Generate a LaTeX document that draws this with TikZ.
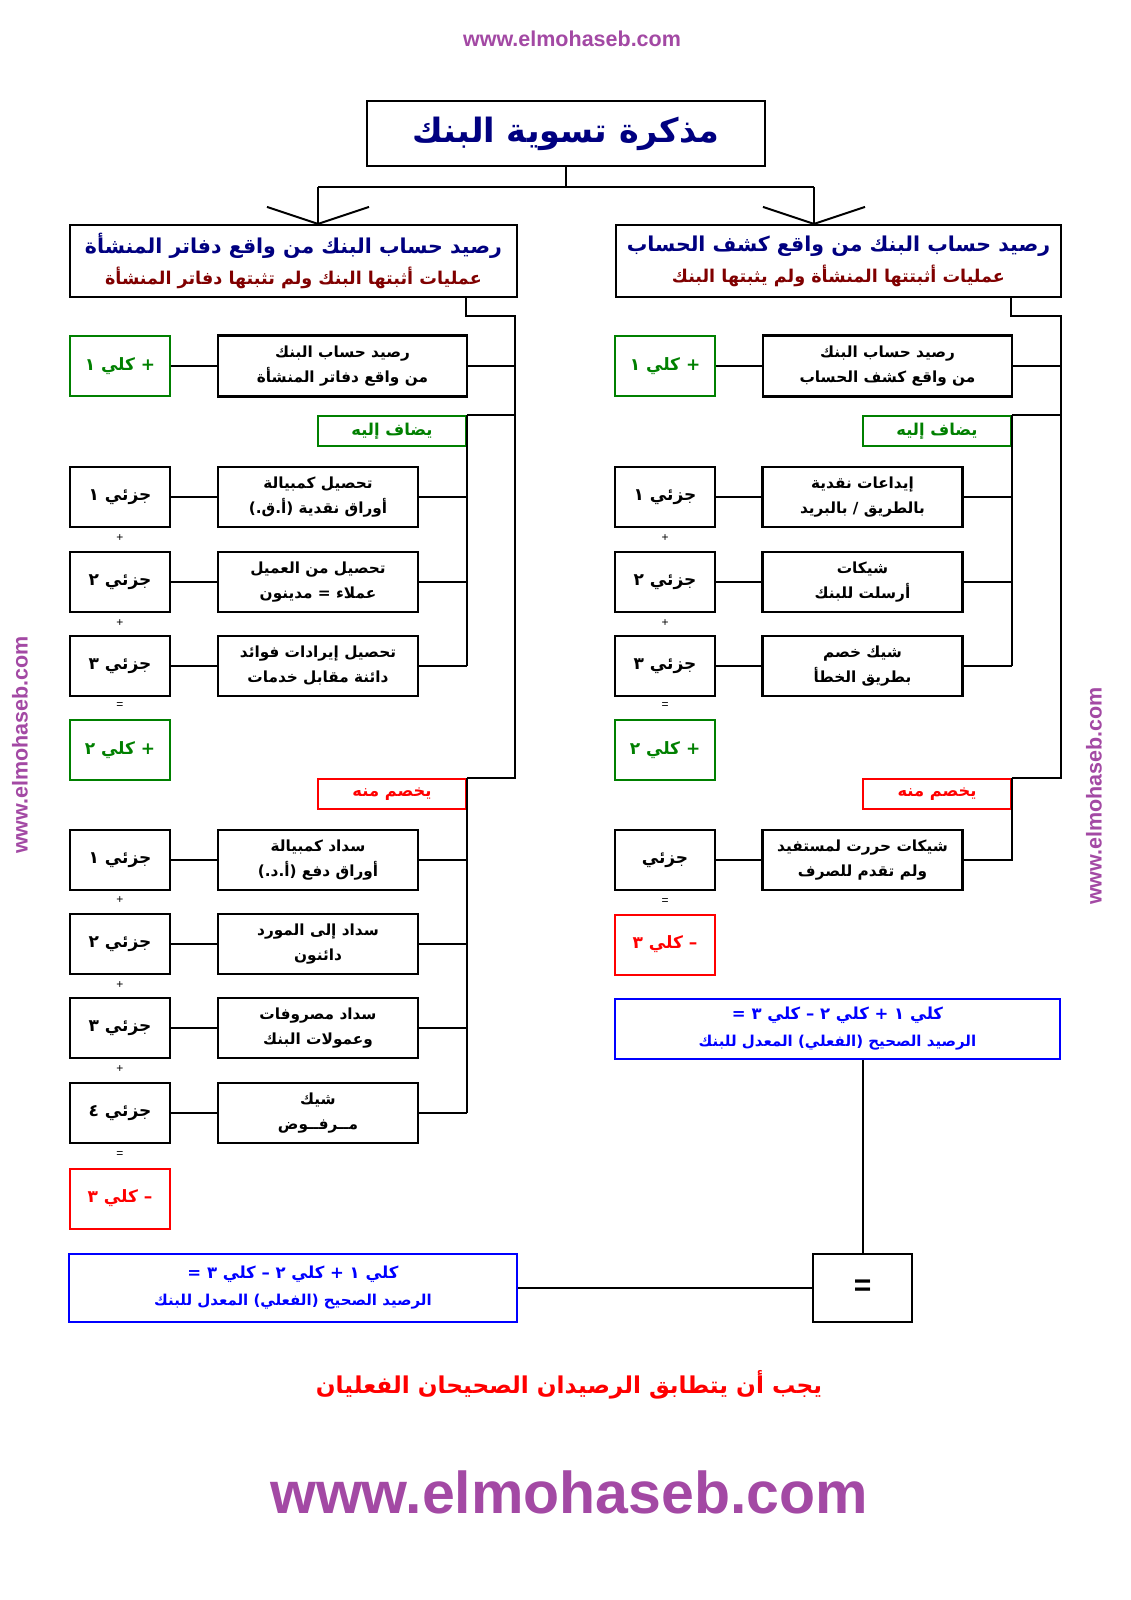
\documentclass[tikz,border=0pt]{standalone}
\usepackage{fontspec}
\setmainfont{Liberation Sans}
\newfontfamily\arabicfont[Script=Arabic]{DejaVu Sans}
\TeXXeTstate=1
\usetikzlibrary{calc}
\definecolor{navytxt}{HTML}{000080}
\definecolor{maroontxt}{HTML}{800000}
\definecolor{grn}{HTML}{008000}
\definecolor{rd}{HTML}{FF0000}
\definecolor{blu}{HTML}{0000FF}
\definecolor{urlpurple}{HTML}{A349A4}
\newcommand{\rl}[1]{\beginR#1\endR}

\begin{document}
\begin{tikzpicture}[x=1pt,y=-1pt,
    box/.style={draw,line width=2.2pt,inner sep=0pt,align=center,
      font=\arabicfont\bfseries\fontsize{15.3}{25}\selectfont},
    part/.style={box,minimum width=100pt,minimum height=60pt,
      font=\arabicfont\bfseries\fontsize{17}{25}\selectfont},
    item/.style={box,minimum width=200pt,minimum height=60pt},
    gpart/.style={part,draw=grn,text=grn,line width=2pt},
    rpart/.style={part,draw=rd,text=rd,line width=2pt},
    tag/.style={box,line width=2pt,minimum width=148pt,minimum height=30pt,
      font=\arabicfont\bfseries\fontsize{16.3}{20}\selectfont},
    sum/.style={box,draw=blu,text=blu,line width=2pt,minimum width=446pt,
      font=\arabicfont\bfseries\fontsize{15}{27}\selectfont},
    link/.style={line width=2pt},
    sign/.style={inner sep=1pt,font=\fontsize{12}{12}\selectfont},
    url/.style={text=urlpurple,font=\bfseries\fontsize{21.5}{22}\selectfont}]
  \useasboundingbox[fill=white] (0,0) rectangle (1131,1600);

  % title and the two headers
  \node[url] (urltop) at (572,39) {www.elmohaseb.com};
  \node[box,minimum width=398pt,minimum height=65pt,text=navytxt,
    font=\arabicfont\bfseries\fontsize{33.5}{36}\selectfont] (title) at (566,133.5) {\rl{مذكرة تسوية البنك}};
  \node[box,minimum width=447pt,minimum height=72pt,
    font=\arabicfont\bfseries\fontsize{20.5}{31}\selectfont] (headL) at (293.5,261)
    {\textcolor{navytxt}{\rl{رصيد حساب البنك من واقع دفاتر المنشأة}}\\
     \textcolor{maroontxt}{\fontsize{17.6}{31}\selectfont\rl{عمليات أثبتها البنك ولم تثبتها دفاتر المنشأة}}};
  \node[box,minimum width=445pt,minimum height=72pt,
    font=\arabicfont\bfseries\fontsize{20.5}{31}\selectfont] (headR) at (838.5,261)
    {\textcolor{navytxt}{\rl{رصيد حساب البنك من واقع كشف الحساب}}\\
     \textcolor{maroontxt}{\fontsize{17.6}{31}\selectfont\rl{عمليات أثبتتها المنشأة ولم يثبتها البنك}}};

  \coordinate (forkL) at (318,187);
  \coordinate (forkR) at (814,187);
  \draw[link] (title.south) -- (title.south |- forkL);
  \draw[link] (forkL) -- (forkR);
  \draw[link] (forkL) -- (forkL |- headL.north);
  \draw[link] (forkR) -- (forkR |- headR.north);
  \draw[link] ($(forkL |- headL.north)+(-51,-17)$) -- (forkL |- headL.north) -- ++(51,-17);
  \draw[link] ($(forkR |- headR.north)+(-51,-17)$) -- (forkR |- headR.north) -- ++(51,-17);

  % left column: book balance
  \node[gpart] (k1L) at (120,366) {\rl{+ كلي ١}};
  \node[box,minimum width=249pt,minimum height=61pt] (balL) at (342.5,366)
    {\rl{رصيد حساب البنك}\\\rl{من واقع دفاتر المنشأة}};
  \node[tag,draw=grn,text=grn] (addL) at (392,431) {\rl{يضاف إليه}};
  \node[part] (p1L) at (120,497) {\rl{جزئي ١}};
  \node[item] (b1L) at (318,497) {\rl{تحصيل كمبيالة}\\\rl{أوراق نقدية (أ.ق.)}};
  \node[part] (p2L) at (120,582) {\rl{جزئي ٢}};
  \node[item] (b2L) at (318,582) {\rl{تحصيل من العميل}\\\rl{عملاء = مدينون}};
  \node[part] (p3L) at (120,666) {\rl{جزئي ٣}};
  \node[item] (b3L) at (318,666) {\rl{تحصيل إيرادات فوائد}\\\rl{دائنة مقابل خدمات}};
  \node[gpart] (k2L) at (120,750) {\rl{+ كلي ٢}};
  \node[tag,draw=rd,text=rd] (subL) at (392,794) {\rl{يخصم منه}};
  \node[part] (q1L) at (120,860) {\rl{جزئي ١}};
  \node[item] (c1L) at (318,860) {\rl{سداد كمبيالة}\\\rl{أوراق دفع (أ.د.)}};
  \node[part] (q2L) at (120,944) {\rl{جزئي ٢}};
  \node[item] (c2L) at (318,944) {\rl{سداد إلى المورد}\\\rl{دائنون}};
  \node[part] (q3L) at (120,1028) {\rl{جزئي ٣}};
  \node[item] (c3L) at (318,1028) {\rl{سداد مصروفات}\\\rl{وعمولات البنك}};
  \node[part] (q4L) at (120,1113) {\rl{جزئي ٤}};
  \node[item] (c4L) at (318,1113) {\rl{شيك}\\\rl{مــرفــوض}};
  \node[rpart] (k3L) at (120,1198.5) {\rl{– كلي ٣}};
  \node[sum,minimum width=448pt,minimum height=68pt] (sumL) at (293,1288)
    {\fontsize{16.5}{27}\selectfont\rl{كلي ١ + كلي ٢ – كلي ٣ =}\\\rl{الرصيد الصحيح (الفعلي) المعدل للبنك}};

  \node[sign] (s1L) at (120,538) {+};
  \node[sign] (s2L) at (120,623) {+};
  \node[sign] (s3L) at (120,706) {=};
  \node[sign] (s4L) at (120,900) {+};
  \node[sign] (s5L) at (120,985) {+};
  \node[sign] (s6L) at (120,1069) {+};
  \node[sign] (s7L) at (120,1155) {=};

  % right column: bank statement balance
  \node[gpart] (k1R) at (665,366) {\rl{+ كلي ١}};
  \node[box,minimum width=249pt,minimum height=61pt] (balR) at (887.5,366)
    {\rl{رصيد حساب البنك}\\\rl{من واقع كشف الحساب}};
  \node[tag,draw=grn,text=grn] (addR) at (937,431) {\rl{يضاف إليه}};
  \node[part] (p1R) at (665,497) {\rl{جزئي ١}};
  \node[item] (b1R) at (862.5,497) {\rl{إيداعات نقدية}\\\rl{بالطريق / بالبريد}};
  \node[part] (p2R) at (665,582) {\rl{جزئي ٢}};
  \node[item] (b2R) at (862.5,582) {\rl{شيكات}\\\rl{أرسلت للبنك}};
  \node[part] (p3R) at (665,666) {\rl{جزئي ٣}};
  \node[item] (b3R) at (862.5,666) {\rl{شيك خصم}\\\rl{بطريق الخطأ}};
  \node[gpart] (k2R) at (665,750) {\rl{+ كلي ٢}};
  \node[tag,draw=rd,text=rd] (subR) at (937,794) {\rl{يخصم منه}};
  \node[part] (q1R) at (665,860) {\rl{جزئي}};
  \node[item] (c1R) at (862.5,860) {\rl{شيكات حررت لمستفيد}\\\rl{ولم تقدم للصرف}};
  \node[rpart] (k3R) at (665,944.5) {\rl{– كلي ٣}};
  \node[sum,minimum width=445pt,minimum height=60pt] (sumR) at (837.5,1029)
    {\fontsize{16.5}{27}\selectfont\rl{كلي ١ + كلي ٢ – كلي ٣ =}\\\rl{الرصيد الصحيح (الفعلي) المعدل للبنك}};

  \node[sign] (s1R) at (665,538) {+};
  \node[sign] (s2R) at (665,623) {+};
  \node[sign] (s3R) at (665,706) {=};
  \node[sign] (s4R) at (665,902) {=};

  \node[box,minimum width=99pt,minimum height=68pt,
    font=\bfseries\fontsize{30}{30}\selectfont] (eq) at (862.5,1288) {=};

  % spines
  \coordinate (inL) at (466,316);
  \coordinate (outL) at (515,316);
  \coordinate (inR) at (1011,316);
  \coordinate (outR) at (1061,316);
  \draw[link] (headL.south -| inL) -- (inL) -- (outL) -- (outL |- subL.north) -- (subL.north east);
  \draw[link] (headR.south -| inR) -- (inR) -- (outR) -- (outR |- subR.north) -- (subR.north east);
  \draw[link] (balL.east) -- (balL.east -| outL);
  \draw[link] (balR.east) -- (balR.east -| outR);
  \draw[link] (addL.north east) -- (addL.north east -| outL);
  \draw[link] (addR.north east) -- (addR.north east -| outR);
  \draw[link] (addL.north east) -- (addL.north east |- b3L.east);
  \draw[link] (addR.north east) -- (addR.north east |- b3R.east);
  \draw[link] (subL.north east) -- (subL.north east |- c4L.east);
  \draw[link] (subR.north east) |- (c1R.east);
  \foreach \n in {b1L,b2L,b3L,c1L,c2L,c3L,c4L}
    \draw[link] (\n.east) -- (\n.east -| subL.east);
  \foreach \n in {b1R,b2R,b3R}
    \draw[link] (\n.east) -- (\n.east -| addR.east);

  % small box to item box
  \foreach \a/\b in {k1L/balL,p1L/b1L,p2L/b2L,p3L/b3L,q1L/c1L,q2L/c2L,q3L/c3L,q4L/c4L,
                     k1R/balR,p1R/b1R,p2R/b2R,p3R/b3R,q1R/c1R}
    \draw[link] (\a.east) -- (\b.west);

  % the two balances
  \draw[link] (sumL.east) -- (eq.west);
  \draw[link] (eq.north) -- (eq.north |- sumR.south);

  \node[text=rd,font=\arabicfont\bfseries\fontsize{23.2}{28}\selectfont] (note) at (569,1385)
    {\rl{يجب أن يتطابق الرصيدان الصحيحان الفعليان}};
  \node[url,font=\bfseries\fontsize{59}{60}\selectfont] (urlbot) at (569,1492) {www.elmohaseb.com};
  \node[url,rotate=90] (urlleft) at (20,745) {www.elmohaseb.com};
  \node[url,rotate=90] (urlright) at (1094,796) {www.elmohaseb.com};
\end{tikzpicture}
\end{document}
